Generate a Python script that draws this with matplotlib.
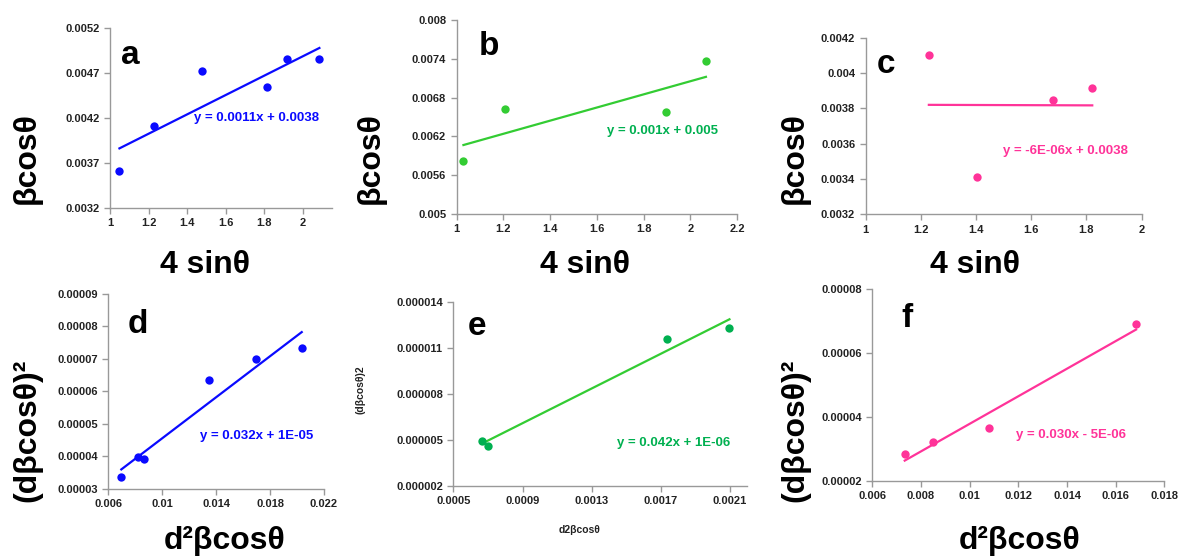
import numpy as np
import matplotlib
matplotlib.use("Agg")
import matplotlib.pyplot as plt
from matplotlib.ticker import FixedLocator, FixedFormatter

plt.rcParams['font.family'] = ['Liberation Sans', 'DejaVu Sans']

# panel data
a_x = [1.049, 1.229, 1.477, 1.811, 1.917, 2.085]
a_y = [0.003607, 0.004115, 0.004722, 0.004544, 0.004856, 0.004856]
b_x = [1.029, 1.207, 1.896, 2.066]
b_y = [0.00582, 0.006619, 0.006572, 0.007371]
c_x = [1.229, 1.402, 1.679, 1.821]
c_y = [0.0041, 0.003413, 0.003847, 0.003913]
d_x = [0.006963, 0.008198, 0.008667, 0.013457, 0.016963, 0.020346]
d_y = [0.0000338, 0.00003995, 0.0000392, 0.0000634, 0.0000699, 0.0000735]
e_x = [0.0006665, 0.000701, 0.0017325, 0.0020962]
e_y = [0.00000491, 0.00000459, 0.00001154, 0.0000123]
f_x = [0.007329, 0.00848, 0.01078, 0.016836]
f_y = [0.00002845, 0.0000322, 0.0000365, 0.0000689]

a_xt = ['1', '1.2', '1.4', '1.6', '1.8', '2']
a_yt = ['0.0032', '0.0037', '0.0042', '0.0047', '0.0052']
b_xt = ['1', '1.2', '1.4', '1.6', '1.8', '2', '2.2']
b_yt = ['0.005', '0.0056', '0.0062', '0.0068', '0.0074', '0.008']
c_xt = ['1', '1.2', '1.4', '1.6', '1.8', '2']
c_yt = ['0.0032', '0.0034', '0.0036', '0.0038', '0.004', '0.0042']
d_xt = ['0.006', '0.01', '0.014', '0.018', '0.022']
d_yt = ['0.00003', '0.00004', '0.00005', '0.00006', '0.00007', '0.00008', '0.00009']
e_xt = ['0.0005', '0.0009', '0.0013', '0.0017', '0.0021']
e_yt = ['0.000002', '0.000005', '0.000008', '0.000011', '0.000014']
f_xt = ['0.006', '0.008', '0.01', '0.012', '0.014', '0.016', '0.018']
f_yt = ['0.00002', '0.00004', '0.00006', '0.00008']

eq_a = 'y = 0.0011x + 0.0038'
eq_b = 'y = 0.001x + 0.005'
eq_c = 'y = -6E-06x + 0.0038'
eq_d = 'y = 0.032x + 1E-05'
eq_e = 'y = 0.042x + 1E-06'
eq_f = 'y = 0.030x - 5E-06'

BLUE = '#0a0aff'
GREEN = '#33cc33'
GREEN2 = '#00b050'
PINK = '#ff3399'

fig = plt.figure(figsize=(11.8, 5.6), dpi=100)

panels = [
    # x, y, xticks, yticks, xlim, rect, pt col, line col, eq col, letter, letter pos, eq, eq pos
    (a_x, a_y, a_xt, a_yt, (1, 2.15), [0.0932, 0.6286, 0.1881, 0.3214], BLUE, BLUE, BLUE, 'a', (0.05, 0.80), eq_a, (0.94, 0.50)),
    (b_x, b_y, b_xt, b_yt, (1, 2.2), [0.3870, 0.6179, 0.2378, 0.3464], GREEN, GREEN, GREEN2, 'b', (0.08, 0.82), eq_b, (0.93, 0.43)),
    (c_x, c_y, c_xt, c_yt, (1, 2), [0.7336, 0.6173, 0.2339, 0.3154], PINK, PINK, PINK, 'c', (0.04, 0.80), eq_c, (0.95, 0.36)),
    (d_x, d_y, d_xt, d_yt, (0.006, 0.022), [0.0918, 0.1268, 0.1828, 0.3482], BLUE, BLUE, BLUE, 'd', (0.09, 0.80), eq_d, (0.95, 0.27)),
    (e_x, e_y, e_xt, e_yt, (0.0005, 0.0022), [0.3842, 0.1327, 0.2492, 0.3286], GREEN2, GREEN, GREEN2, 'e', (0.05, 0.82), eq_e, (0.94, 0.23)),
    (f_x, f_y, f_xt, f_yt, (0.006, 0.018), [0.7393, 0.1416, 0.2475, 0.3423], PINK, PINK, PINK, 'f', (0.10, 0.80), eq_f, (0.87, 0.24)),
]

for x, y, xt, yt, xlim, rect, pc, lc, ec, letter, lpos, eq, epos in panels:
    ax = fig.add_axes(rect)
    ax.scatter(x, y, s=36, color=pc, zorder=3, linewidths=0)
    k, b = np.polyfit(x, y, 1)
    xs = np.array([min(x), max(x)])
    ax.plot(xs, k * xs + b, color=lc, lw=1.6, zorder=2)
    xv = [float(t) for t in xt]
    yv = [float(t) for t in yt]
    ax.set_xlim(xlim)
    ax.set_ylim(yv[0], yv[-1])
    ax.xaxis.set_major_locator(FixedLocator(xv))
    ax.xaxis.set_major_formatter(FixedFormatter(xt))
    ax.yaxis.set_major_locator(FixedLocator(yv))
    ax.yaxis.set_major_formatter(FixedFormatter(yt))
    for s in ['top', 'right']:
        ax.spines[s].set_visible(False)
    for s in ['left', 'bottom']:
        ax.spines[s].set_color('#999999')
        ax.spines[s].set_linewidth(1.0)
    ax.tick_params(direction='out', length=4, width=1, color='#999999',
                   labelsize=8, labelcolor='#222222')
    for lab in ax.get_xticklabels() + ax.get_yticklabels():
        lab.set_fontweight('bold')
    ax.text(lpos[0], lpos[1], letter, transform=ax.transAxes, fontsize=24,
            fontweight='bold', color='black')
    ax.text(epos[0], epos[1], eq, transform=ax.transAxes, fontsize=9.5,
            fontweight='bold', color=ec, ha='right', va='center')

# axis titles
big = dict(fontsize=23, fontweight='bold', color='black')
for xc in [205, 585, 975]:
    fig.text(xc / 1180, 1 - 265 / 560, '4 sinθ', ha='center', va='center', **big)
for xc in [27, 371, 795]:
    fig.text(xc / 1180, 1 - 158 / 560, 'βcosθ', ha='center', va='center', rotation=90, **big)
for xc in [27, 795]:
    fig.text(xc / 1180, 1 - 430 / 560, '(dβcosθ)²', ha='center', va='center', rotation=90, **big)
for xc in [225, 1020]:
    fig.text(xc / 1180, 1 - 541 / 560, 'd²βcosθ', ha='center', va='center', **big)
fig.text(360 / 1180, 1 - 390 / 560, '(dβcosθ)2', ha='center', va='center', rotation=90,
         fontsize=7.5, fontweight='bold', color='#222222')
fig.text(580 / 1180, 1 - 530 / 560, 'd2βcosθ', ha='center', va='center',
         fontsize=7.5, fontweight='bold', color='#222222')

fig.savefig('out.png', dpi=100, facecolor='white')
